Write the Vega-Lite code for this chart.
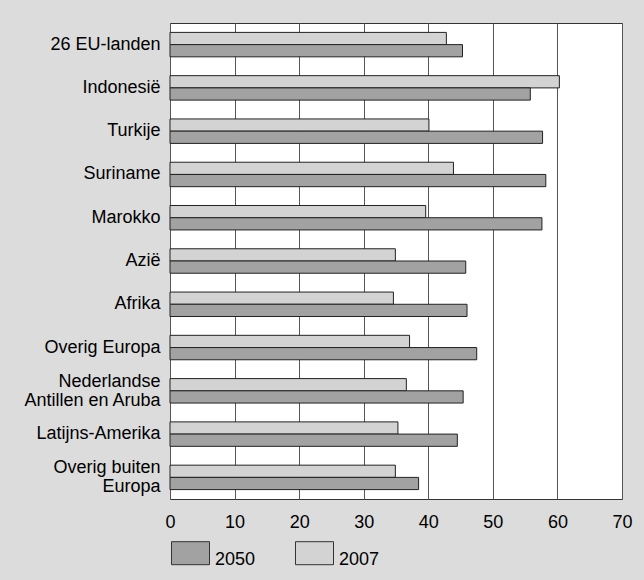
{
  "$schema": "https://vega.github.io/schema/vega-lite/v6.json",
  "autosize": "none",
  "padding": {"left": 170, "top": 23, "right": 22, "bottom": 81},
  "width": 452,
  "height": 476,
  "background": "#dcdcdc",
  "config": {
    "font": "Liberation Sans",
    "view": {"fill": "white", "stroke": "#333333", "strokeWidth": 1}
  },
  "data": {
    "values": [
      {"regio": "26 EU-landen", "jaar": "2007", "waarde": 42.8},
      {"regio": "26 EU-landen", "jaar": "2050", "waarde": 45.3},
      {"regio": "Indonesië", "jaar": "2007", "waarde": 60.3},
      {"regio": "Indonesië", "jaar": "2050", "waarde": 55.8},
      {"regio": "Turkije", "jaar": "2007", "waarde": 40.1},
      {"regio": "Turkije", "jaar": "2050", "waarde": 57.7},
      {"regio": "Suriname", "jaar": "2007", "waarde": 43.9},
      {"regio": "Suriname", "jaar": "2050", "waarde": 58.2},
      {"regio": "Marokko", "jaar": "2007", "waarde": 39.6},
      {"regio": "Marokko", "jaar": "2050", "waarde": 57.6},
      {"regio": "Azië", "jaar": "2007", "waarde": 34.9},
      {"regio": "Azië", "jaar": "2050", "waarde": 45.8},
      {"regio": "Afrika", "jaar": "2007", "waarde": 34.6},
      {"regio": "Afrika", "jaar": "2050", "waarde": 46.0},
      {"regio": "Overig Europa", "jaar": "2007", "waarde": 37.1},
      {"regio": "Overig Europa", "jaar": "2050", "waarde": 47.5},
      {"regio": "Nederlandse\u00a0|Antillen en Aruba", "jaar": "2007", "waarde": 36.6},
      {"regio": "Nederlandse\u00a0|Antillen en Aruba", "jaar": "2050", "waarde": 45.4},
      {"regio": "Latijns-Amerika", "jaar": "2007", "waarde": 35.3},
      {"regio": "Latijns-Amerika", "jaar": "2050", "waarde": 44.5},
      {"regio": "Overig buiten|Europa", "jaar": "2007", "waarde": 34.9},
      {"regio": "Overig buiten|Europa", "jaar": "2050", "waarde": 38.5}
    ]
  },
  "mark": {"type": "bar", "stroke": "#222222", "strokeWidth": 1},
  "encoding": {
    "y": {
      "field": "regio",
      "type": "nominal",
      "sort": null,
      "scale": {"paddingInner": 0.435, "paddingOuter": 0.217},
      "axis": {
        "title": null,
        "domain": false,
        "ticks": false,
        "labelPadding": 10,
        "labelFontSize": 18,
        "labelColor": "black",
        "labelLineHeight": 19,
        "labelLimit": 200,
        "labelBaseline": {"condition": {"test": "indexof(datum.value, '|') >= 0", "value": "line-bottom"}, "value": "middle"},
        "labelExpr": "split(datum.value, '|')"
      }
    },
    "yOffset": {
      "field": "jaar",
      "type": "nominal",
      "sort": ["2007", "2050"],
      "scale": {"paddingInner": 0, "paddingOuter": 0}
    },
    "x": {
      "field": "waarde",
      "type": "quantitative",
      "scale": {"domain": [0, 70], "nice": false},
      "axis": {
        "title": null,
        "values": [0, 10, 20, 30, 40, 50, 60, 70],
        "domain": false,
        "ticks": false,
        "grid": true,
        "gridColor": "#555555",
        "gridOpacity": 1,
        "gridWidth": 1,
        "labelPadding": 14,
        "labelFontSize": 18,
        "labelColor": "black",
        "labelFlush": false
      }
    },
    "color": {
      "field": "jaar",
      "type": "nominal",
      "scale": {"domain": ["2050", "2007"], "range": ["#a2a2a2", "#d3d3d3"]},
      "legend": {
        "title": null,
        "orient": "none",
        "direction": "horizontal",
        "legendX": 1,
        "legendY": 517,
        "symbolType": "M-1,-0.95H1V0.26H-1Z",
        "symbolSize": 1444,
        "symbolStrokeColor": "#333333",
        "symbolStrokeWidth": 1,
        "symbolOpacity": 1,
        "labelFontSize": 18,
        "labelColor": "black",
        "labelBaseline": "middle",
        "labelOffset": 5,
        "columnPadding": 37
      }
    }
  }
}
